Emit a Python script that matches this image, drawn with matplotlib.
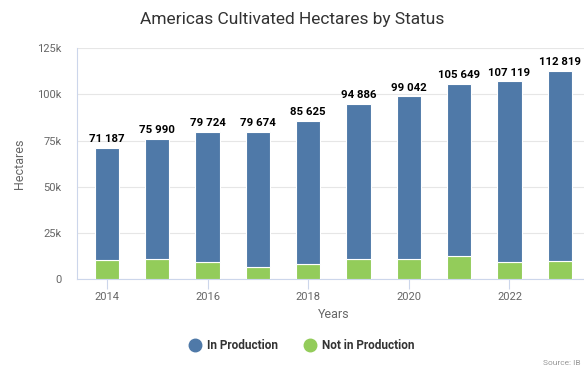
import matplotlib.pyplot as plt
from matplotlib.lines import Line2D

plt.rcParams['font.family'] = ['Roboto', 'DejaVu Sans']

years = [2014, 2015, 2016, 2017, 2018, 2019, 2020, 2021, 2022, 2023]
totals = [71187, 75990, 79724, 79674, 85625, 94886, 99042, 105649, 107119, 112819]
not_in_production = [10400, 11000, 9400, 6700, 8300, 11000, 11000, 12300, 9400, 9900]
in_production = [t - n for t, n in zip(totals, not_in_production)]

blue = '#4f79a8'
green = '#93cc5a'

fig = plt.figure(figsize=(5.84, 3.68), dpi=100)
ax = fig.add_axes([0.1313, 0.2418, 0.879, 0.627])

ax.bar(years, not_in_production, width=0.48, color=green, edgecolor='white', linewidth=0.8, zorder=3)
ax.bar(years, in_production, bottom=not_in_production, width=0.48, color=blue,
       edgecolor='white', linewidth=0.8, zorder=3)

# total hectares above each stack
for x, t in zip(years, totals):
    ax.text(x, t + 2000, f'{t:,}'.replace(',', ' '), ha='center', va='bottom',
            fontsize=8.2, fontweight='bold', color='black', zorder=4)

ax.set_xlim(2014 - 0.6, 2023 + 0.6)
ax.set_ylim(0, 125000)
ax.set_yticks([0, 25000, 50000, 75000, 100000, 125000])
ax.set_yticklabels(['0', '25k', '50k', '75k', '100k', '125k'])
ax.set_xticks([2014, 2016, 2018, 2020, 2022])

ax.grid(axis='y', color='#e6e6e6', linewidth=0.8, zorder=0)
for side in ['top', 'right']:
    ax.spines[side].set_visible(False)
ax.spines['left'].set_color('#ccd6eb')
ax.spines['bottom'].set_color('#ccd6eb')
ax.tick_params(axis='y', length=0, labelsize=8, labelcolor='#666666', pad=11)
ax.tick_params(axis='x', length=7, color='#ccd6eb', labelsize=8, labelcolor='#666666', pad=2)

ax.set_ylabel('Hectares', fontsize=9, color='#666666', labelpad=8)
ax.set_xlabel('Years', fontsize=9, color='#666666', labelpad=5)

fig.text(0.5, 0.948, 'Americas Cultivated Hectares by Status', ha='center', va='center',
         fontsize=12.5, color='#333333')

handles = [
    Line2D([], [], marker='o', linestyle='', markersize=9, markerfacecolor=blue, markeredgecolor=blue),
    Line2D([], [], marker='o', linestyle='', markersize=9, markerfacecolor=green, markeredgecolor=green),
]
leg = fig.legend(handles, ['In Production', 'Not in Production'], loc='center',
                 bbox_to_anchor=(0.512, 0.062), ncol=2, frameon=False, handletextpad=0.05,
                 columnspacing=1.7, prop={'size': 8.5, 'weight': 'bold'})
for t in leg.get_texts():
    t.set_color('#333333')

fig.text(0.93, 0.005, 'Source: IB', fontsize=6, color='#999999', ha='left', va='bottom')

fig.savefig('out.png', dpi=100)
